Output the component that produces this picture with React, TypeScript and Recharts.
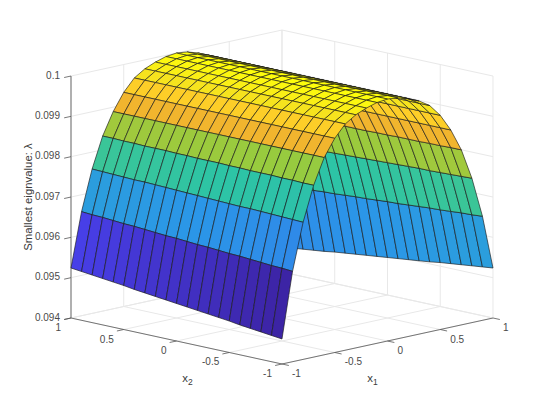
import { Scatter, ScatterChart, XAxis, YAxis } from "recharts";

const x1Grid = [-1, -0.9, -0.8, -0.7, -0.6, -0.5, -0.4, -0.3, -0.2, -0.1, 0, 0.1, 0.2, 0.3, 0.4, 0.5, 0.6, 0.7, 0.8, 0.9, 1];
const x2Grid = [-1, -0.9, -0.8, -0.7, -0.6, -0.5, -0.4, -0.3, -0.2, -0.1, 0, 0.1, 0.2, 0.3, 0.4, 0.5, 0.6, 0.7, 0.8, 0.9, 1];

// smallest eigenvalue x 1e5, one row per x2, one column per x1
const lambdaRows = [
  [9462, 9624, 9740, 9826, 9889, 9931, 9961, 9978, 9989, 9997, 10000, 9997, 9989, 9978, 9961, 9931, 9889, 9834, 9758, 9658, 9524],
  [9465, 9626, 9741, 9826, 9889, 9931, 9961, 9978, 9989, 9997, 10000, 9997, 9989, 9978, 9961, 9931, 9889, 9834, 9757, 9656, 9521],
  [9468, 9627, 9742, 9827, 9889, 9931, 9961, 9978, 9989, 9997, 10000, 9997, 9989, 9978, 9961, 9931, 9889, 9833, 9756, 9655, 9518],
  [9471, 9629, 9743, 9827, 9889, 9931, 9961, 9978, 9989, 9997, 10000, 9997, 9989, 9978, 9961, 9931, 9889, 9833, 9755, 9653, 9515],
  [9474, 9631, 9744, 9828, 9889, 9931, 9961, 9978, 9989, 9997, 10000, 9997, 9989, 9978, 9961, 9931, 9889, 9832, 9754, 9651, 9512],
  [9478, 9633, 9745, 9828, 9889, 9931, 9961, 9978, 9989, 9997, 10000, 9997, 9989, 9978, 9961, 9931, 9889, 9832, 9754, 9650, 9509],
  [9481, 9634, 9745, 9828, 9889, 9931, 9961, 9978, 9989, 9997, 10000, 9997, 9989, 9978, 9961, 9931, 9889, 9832, 9753, 9648, 9505],
  [9484, 9636, 9746, 9829, 9889, 9931, 9961, 9978, 9989, 9997, 10000, 9997, 9989, 9978, 9961, 9931, 9889, 9831, 9752, 9646, 9502],
  [9487, 9638, 9747, 9829, 9889, 9931, 9961, 9978, 9989, 9997, 10000, 9997, 9989, 9978, 9961, 9931, 9889, 9831, 9751, 9644, 9499],
  [9490, 9639, 9748, 9830, 9889, 9931, 9961, 9978, 9989, 9997, 10000, 9997, 9989, 9978, 9961, 9931, 9889, 9830, 9750, 9643, 9496],
  [9493, 9641, 9749, 9830, 9889, 9931, 9961, 9978, 9989, 9997, 10000, 9997, 9989, 9978, 9961, 9931, 9889, 9830, 9749, 9641, 9493],
  [9496, 9643, 9750, 9830, 9889, 9931, 9961, 9978, 9989, 9997, 10000, 9997, 9989, 9978, 9961, 9931, 9889, 9830, 9748, 9639, 9490],
  [9499, 9644, 9751, 9831, 9889, 9931, 9961, 9978, 9989, 9997, 10000, 9997, 9989, 9978, 9961, 9931, 9889, 9829, 9747, 9638, 9487],
  [9502, 9646, 9752, 9831, 9889, 9931, 9961, 9978, 9989, 9997, 10000, 9997, 9989, 9978, 9961, 9931, 9889, 9829, 9746, 9636, 9484],
  [9505, 9648, 9753, 9832, 9889, 9931, 9961, 9978, 9989, 9997, 10000, 9997, 9989, 9978, 9961, 9931, 9889, 9828, 9745, 9634, 9481],
  [9509, 9650, 9754, 9832, 9889, 9931, 9961, 9978, 9989, 9997, 10000, 9997, 9989, 9978, 9961, 9931, 9889, 9828, 9745, 9633, 9478],
  [9512, 9651, 9754, 9832, 9889, 9931, 9961, 9978, 9989, 9997, 10000, 9997, 9989, 9978, 9961, 9931, 9889, 9828, 9744, 9631, 9474],
  [9515, 9653, 9755, 9833, 9889, 9931, 9961, 9978, 9989, 9997, 10000, 9997, 9989, 9978, 9961, 9931, 9889, 9827, 9743, 9629, 9471],
  [9518, 9655, 9756, 9833, 9889, 9931, 9961, 9978, 9989, 9997, 10000, 9997, 9989, 9978, 9961, 9931, 9889, 9827, 9742, 9627, 9468],
  [9521, 9656, 9757, 9834, 9889, 9931, 9961, 9978, 9989, 9997, 10000, 9997, 9989, 9978, 9961, 9931, 9889, 9826, 9741, 9626, 9465],
  [9524, 9658, 9758, 9834, 9889, 9931, 9961, 9978, 9989, 9997, 10000, 9997, 9989, 9978, 9961, 9931, 9889, 9826, 9740, 9624, 9462],
];

const x1Ticks = [-1, -0.5, 0, 0.5, 1];
const x2Ticks = [-1, -0.5, 0, 0.5, 1];
const zTicks = [0.094, 0.095, 0.096, 0.097, 0.098, 0.099, 0.1];
const x1TickLabels = ["-1", "-0.5", "0", "0.5", "1"];
const x2TickLabels = ["-1", "-0.5", "0", "0.5", "1"];
const zTickLabels = ["0.094", "0.095", "0.096", "0.097", "0.098", "0.099", "0.1"];

const WIDTH = 545;
const HEIGHT = 409;
const FONT = "'Liberation Sans', Arial, sans-serif";
const TEXT = "#4a4a4a";

// colormap: [position, r, g, b]
const colormap = [
  [0, 60, 36, 165],
  [0.115, 72, 64, 234],
  [0.33, 43, 150, 232],
  [0.53, 45, 196, 165],
  [0.68, 152, 203, 62],
  [0.79, 240, 180, 46],
  [0.87, 253, 205, 40],
  [0.93, 246, 228, 30],
  [1, 255, 255, 10],
];

const colorFor = (t: number) => {
  let i = 0;
  while (i < colormap.length - 2 && t > colormap[i + 1][0]) i++;
  const a = colormap[i];
  const b = colormap[i + 1];
  const f = Math.min(Math.max((t - a[0]) / (b[0] - a[0]), 0), 1);
  const mix = (n: number) => Math.round(a[n] + (b[n] - a[n]) * f);
  return `rgb(${mix(1)},${mix(2)},${mix(3)})`;
};

// viewing plane of the 3D axes: az/el of the MATLAB view
const SKEW = 0.00057;
const view = (x1: number, x2: number, z: number) => ({
  vx: x1 - x2,
  vy: z + (x1 + x2) * SKEW,
});

type Pt = { vx: number; vy: number };
type PathProps = { points?: { x: number; y: number }[] };

const zMin = lambdaRows[0][0] / 1e5;
const zMax = 0.1;

// faces from far to near so nearer ones paint over
const faces: { k: number; j: number }[] = [];
for (let k = 0; k < x1Grid.length - 1; k++) {
  for (let j = 0; j < x2Grid.length - 1; j++) faces.push({ k, j });
}
faces.sort((a, b) => b.k + b.j - (a.k + a.j));

const corner = (k: number, j: number) =>
  view(x1Grid[k], x2Grid[j], lambdaRows[j][k] / 1e5);

const surfacePoints: Pt[] = faces.flatMap(({ k, j }) => [
  corner(k, j),
  corner(k + 1, j),
  corner(k + 1, j + 1),
  corner(k, j + 1),
]);

const renderFaces = (props: PathProps) => {
  const pts = props.points ?? [];
  return (
    <g>
      {faces.map(({ k, j }, n) => {
        const q = pts.slice(n * 4, n * 4 + 4);
        const d = `M${q.map((p) => `${p.x},${p.y}`).join("L")}Z`;
        const fill = colorFor((lambdaRows[j][k] / 1e5 - zMin) / (zMax - zMin));
        return <path key={n} d={d} fill={fill} stroke="#1a1a1a" strokeWidth={0.65} strokeLinejoin="round" />;
      })}
    </g>
  );
};

// pairs of points -> separate segments
const segments = (stroke: string, width: number) => (props: PathProps) => {
  const pts = props.points ?? [];
  let d = "";
  for (let i = 0; i + 1 < pts.length; i += 2) {
    d += `M${pts[i].x},${pts[i].y}L${pts[i + 1].x},${pts[i + 1].y}`;
  }
  return <path d={d} fill="none" stroke={stroke} strokeWidth={width} />;
};

const z0 = zTicks[0];
const z1 = zTicks[zTicks.length - 1];

const gridPoints: Pt[] = [
  // floor
  ...x1Ticks.flatMap((t) => [view(t, -1, z0), view(t, 1, z0)]),
  ...x2Ticks.flatMap((t) => [view(-1, t, z0), view(1, t, z0)]),
  // back wall x2 = 1
  ...x1Ticks.flatMap((t) => [view(t, 1, z0), view(t, 1, z1)]),
  ...zTicks.flatMap((t) => [view(-1, 1, t), view(1, 1, t)]),
  // back wall x1 = 1
  ...x2Ticks.flatMap((t) => [view(1, t, z0), view(1, t, z1)]),
  ...zTicks.flatMap((t) => [view(1, -1, t), view(1, 1, t)]),
];

const TICK = 0.065;
const axisPoints: Pt[] = [
  view(-1, 1, z0),
  view(-1, -1, z0),
  view(-1, -1, z0),
  view(1, -1, z0),
  ...x1Ticks.flatMap((t) => [view(t, -1, z0), view(t, -1 - TICK, z0)]),
  ...x2Ticks.flatMap((t) => [view(-1, t, z0), view(-1 - TICK, t, z0)]),
  ...zTicks.flatMap((t) => [view(-1, 1, t), view(-1 - TICK, 1, t)]),
];
const zAxisPoints: Pt[] = [view(-1, 1, z0), view(-1, 1, z1)];

type LabelPt = Pt & { text: string; dx: number; dy: number; anchor: string };

const x1Labels: LabelPt[] = x1Ticks.map((t, i) => ({
  ...view(t, -1, z0),
  text: x1TickLabels[i],
  dx: 10,
  dy: 13,
  anchor: "start",
}));
const x2Labels: LabelPt[] = x2Ticks.map((t, i) => ({
  ...view(-1, t, z0),
  text: x2TickLabels[i],
  dx: -10,
  dy: 13,
  anchor: "end",
}));
const zLabels: LabelPt[] = zTicks.map((t, i) => ({
  ...view(-1, 1, t),
  text: zTickLabels[i],
  dx: -11,
  dy: 2.5,
  anchor: "end",
}));

const renderLabel = (p: any) => {
  const { cx, cy, payload } = p;
  return (
    <text
      x={cx + payload.dx}
      y={cy + payload.dy}
      textAnchor={payload.anchor}
      fontFamily={FONT}
      fontSize={10}
      fill={TEXT}
    >
      {payload.text}
    </text>
  );
};

const renderAxisTitle = (p: any) => {
  const { cx, cy, payload } = p;
  if (payload.rotate) {
    return (
      <text
        x={cx + payload.dx}
        y={cy + payload.dy}
        transform={`rotate(-90 ${cx + payload.dx} ${cy + payload.dy})`}
        textAnchor="middle"
        fontFamily={FONT}
        fontSize={11.4}
        fill="#3a3a3a"
      >
        {payload.text}
      </text>
    );
  }
  return (
    <text x={cx + payload.dx} y={cy + payload.dy} textAnchor="middle" fontFamily={FONT} fontSize={11.4} fill="#3a3a3a">
      {payload.text}
      <tspan dy={3} fontSize={8.5}>
        {payload.sub}
      </tspan>
    </text>
  );
};

const titlePoints = [
  { ...view(-1, 0, z0), text: "x", sub: "2", dx: 11, dy: 41 },
  { ...view(0, -1, z0), text: "x", sub: "1", dx: -15, dy: 41 },
  { ...view(-1, 1, 0.097), text: "Smallest eignvalue: λ", rotate: true, dx: -39, dy: 0 },
];

const none = () => <g />;

export default function App() {
  return (
    <div style={{ position: "absolute", left: 0, top: 0, background: "#fff" }}>
      <ScatterChart width={WIDTH} height={HEIGHT} margin={{ top: 0, right: 0, bottom: 0, left: 0 }}>
        <XAxis type="number" dataKey="vx" domain={[-2.673, 2.493]} hide allowDataOverflow />
        <YAxis type="number" dataKey="vy" domain={[0.091744, 0.101885]} hide allowDataOverflow />
        <Scatter data={gridPoints} line={segments("#e8e8e8", 1)} shape={none} isAnimationActive={false} />
        <Scatter data={zAxisPoints} line={segments("#b0b0b0", 2)} shape={none} isAnimationActive={false} />
        <Scatter data={axisPoints} line={segments("#555", 0.8)} shape={none} isAnimationActive={false} />
        <Scatter data={surfacePoints} line={renderFaces} shape={none} isAnimationActive={false} />
        <Scatter data={x1Labels} shape={renderLabel} isAnimationActive={false} />
        <Scatter data={x2Labels} shape={renderLabel} isAnimationActive={false} />
        <Scatter data={zLabels} shape={renderLabel} isAnimationActive={false} />
        <Scatter data={titlePoints} shape={renderAxisTitle} isAnimationActive={false} />
      </ScatterChart>
    </div>
  );
}
